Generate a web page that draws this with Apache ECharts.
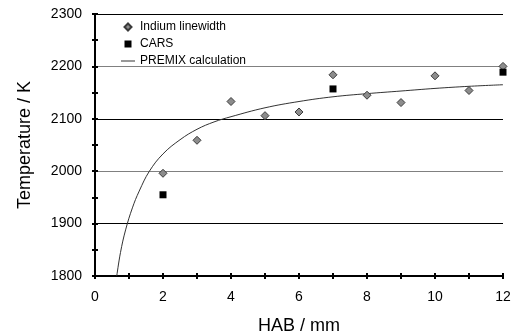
<!DOCTYPE html>
<html>
<head>
<meta charset="utf-8">
<script src="https://cdn.jsdelivr.net/npm/echarts@6/dist/echarts.min.js"></script>
<style>
  html, body { margin: 0; padding: 0; background: #fff; }
  #chart { width: 517px; height: 334px; }
</style>
</head>
<body>
<div id="chart"></div>
<script>
// HAB / mm for the measurements
const indiumX = [2, 3, 4, 5, 6, 7, 8, 9, 10, 11, 12];
const indiumT = [1996, 2059, 2133, 2106, 2113, 2184, 2145, 2131, 2182, 2154, 2200];
const carsX = [2, 7, 12];
const carsT = [1955, 2157, 2189];
// PREMIX curve
const premixX = [0.64, 0.75, 0.9, 1.1, 1.3, 1.6, 2.0, 2.5, 3.0, 3.5, 4.0, 5.0, 6.0, 7.0, 8.0, 9.0, 10.0, 11.0, 12.0];
const premixT = [1800, 1845, 1888, 1930, 1962, 2000, 2033, 2060, 2080, 2094, 2104, 2121, 2133, 2142, 2148, 2153, 2158, 2162, 2165];
const gridColors = ['#000', '#000', '#808080', '#000', '#808080', '#000'];

const font = 'Liberation Sans, Arial, sans-serif';
const zip = (xs, ys) => xs.map((x, i) => [x, ys[i]]);

const chart = echarts.init(document.getElementById('chart'));

// overlay axis: ticks drawn inside so they cross the axis line
const hiddenX = {
  type: 'value', min: 0, max: 12, interval: 1, position: 'bottom',
  axisLine: { show: false }, axisLabel: { show: false }, splitLine: { show: false },
  axisTick: { show: true, inside: true, length: 3, lineStyle: { color: '#000', width: 2 } }
};

chart.setOption({
  animation: false,
  textStyle: { fontFamily: font },
  grid: { left: 95, right: 14, top: 14, bottom: 58, outerBoundsMode: 'none', containLabel: false },
  legend: {
    orient: 'vertical',
    left: 116,
    top: 16,
    itemWidth: 14,
    itemHeight: 7,
    itemGap: 5,
    symbolKeepAspect: true,
    textStyle: { fontSize: 12, color: '#000', fontFamily: font },
    data: [
      { name: 'Indium linewidth', icon: 'path://M0,-1L1,0L0,1L-1,0Z' },
      { name: 'CARS', icon: 'path://M0,0H1V1H0Z', itemStyle: { color: '#000' } },
      { name: 'PREMIX calculation', icon: 'path://M0,0H14V1H0Z', itemStyle: { color: '#333', borderWidth: 0 } }
    ]
  },
  xAxis: [
    {
      type: 'value', min: 0, max: 12, interval: 1,
      name: 'HAB / mm', nameLocation: 'middle', nameGap: 41,
      nameTextStyle: { fontSize: 18, color: '#000', fontFamily: font },
      axisLine: { lineStyle: { color: '#000', width: 2 } },
      axisTick: { length: 3, lineStyle: { color: '#000', width: 2 } },
      axisLabel: {
        fontSize: 14, color: '#000', margin: 14,
        formatter: v => (v % 2 === 0 ? String(v) : '')
      },
      splitLine: { show: false }
    },
    hiddenX
  ],
  yAxis: [
    {
      type: 'value', min: 1800, max: 2300, interval: 50,
      name: 'Temperature / K', nameLocation: 'middle', nameGap: 61,
      nameTextStyle: { fontSize: 18, color: '#000', fontFamily: font },
      axisLine: { show: true, lineStyle: { color: '#000', width: 2 } },
      axisTick: { show: true, length: 3, lineStyle: { color: '#000', width: 2 } },
      axisLabel: {
        fontSize: 14, color: '#000', margin: 13,
        formatter: v => (v % 100 === 0 ? String(v) : '')
      },
      splitLine: { show: false }
    },
    {
      type: 'value', min: 1800, max: 2300, interval: 50, position: 'left',
      axisLine: { show: false }, axisLabel: { show: false }, splitLine: { show: false },
      axisTick: { show: true, inside: true, length: 3, lineStyle: { color: '#000', width: 2 } }
    },
    {
      // horizontal gridlines every 100 K
      type: 'value', min: 1800, max: 2300, interval: 100, position: 'left',
      axisLine: { show: false }, axisLabel: { show: false }, axisTick: { show: false },
      splitLine: { show: true, lineStyle: { color: gridColors, width: 1 } }
    }
  ],
  series: [
    {
      name: 'PREMIX calculation',
      type: 'line',
      smooth: 0.4,
      symbol: 'none',
      data: zip(premixX, premixT),
      lineStyle: { color: '#333', width: 1 },
      itemStyle: { color: '#333' },
      z: 3
    },
    {
      name: 'Indium linewidth',
      type: 'scatter',
      symbol: 'diamond',
      symbolSize: 8,
      data: zip(indiumX, indiumT),
      itemStyle: { color: '#8c8c8c', borderColor: '#3a3a3a', borderWidth: 1, opacity: 1 },
      z: 4
    },
    {
      name: 'CARS',
      type: 'scatter',
      symbol: 'rect',
      symbolSize: 7,
      data: zip(carsX, carsT),
      itemStyle: { color: '#000', opacity: 1 },
      z: 4
    }
  ]
});

window.addEventListener('resize', () => chart.resize());
</script>
</body>
</html>
